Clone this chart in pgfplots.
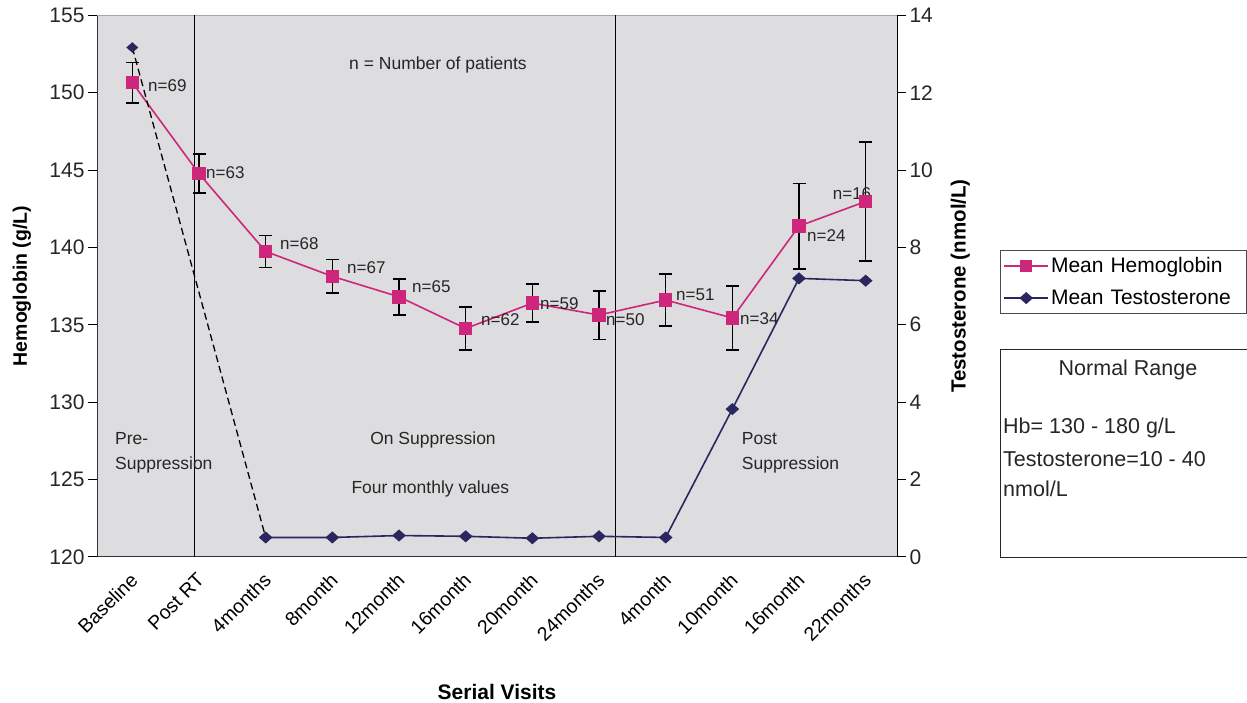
\documentclass[border=0pt]{standalone}
\usepackage{fontspec}
\setmainfont{Liberation Sans}
\usepackage{pgfplots}
\pgfplotsset{compat=1.18}
\definecolor{hb}{RGB}{205,38,122}
\definecolor{te}{RGB}{42,38,95}
\definecolor{bg}{RGB}{221,221,223}
\pgfplotstableread{
x y e
0 150.65 1.30
1 144.77 1.27
2 139.74 1.03
3 138.13 1.09
4 136.81 1.16
5 134.76 1.38
6 136.40 1.24
7 135.63 1.57
8 136.60 1.69
9 135.44 2.08
10 141.38 2.76
11 142.97 3.83
}\hbdata
\pgfplotstableread{
x y
0 13.17
2 0.50
}\tedash
\pgfplotstableread{
x y
2 0.50
3 0.50
4 0.55
5 0.53
6 0.48
7 0.53
8 0.50
9 3.82
10 7.20
11 7.14
}\tesolid
\begin{document}
\begin{tikzpicture}[x=1pt,y=1pt]
\useasboundingbox (0,0) rectangle (1247,702);
\begin{axis}[
  at={(97pt,145.2pt)}, anchor=south west,
  width=800pt, height=541.4pt, scale only axis,
  xmin=-0.53, xmax=11.47, ymin=120, ymax=155,
  axis background/.style={fill=bg},
  axis x line*=bottom, axis y line*=left,
  axis line style={line width=0.9pt, black!80},
  xtick={0,...,11},
  xticklabels={Baseline,Post RT,4months,8month,12month,16month,20month,24months,4month,10month,16month,22months},
  xtick style={draw=none},
  xticklabel style={rotate=45, anchor=east, font=\fontsize{19.5}{22}\selectfont, xshift=-3pt, yshift=-9pt},
  ytick={120,125,...,155},
  tick align=outside, major tick length=9pt,
  ytick style={line width=0.8pt, black},
  yticklabel style={font=\fontsize{21}{24}\selectfont, text=black!85},
  /pgf/number format/assume math mode=true,
  ylabel={\bfseries Hemoglobin (g/L)},
  ylabel style={font=\fontsize{19.5}{22}\selectfont, at={(axis description cs:-0.094,0.5)}, anchor=center},
  xlabel={\bfseries Serial Visits},
  xlabel style={font=\fontsize{21}{24}\selectfont, at={(axis description cs:0.5,-0.25)}, anchor=center},
  clip=false,
]
\draw[black!35, line width=1pt] (rel axis cs:0,1) -- (rel axis cs:1,1);
\draw[black, line width=1pt] (axis cs:0.93,120) -- (axis cs:0.93,155);
\draw[black, line width=1pt] (axis cs:7.25,120) -- (axis cs:7.25,155);
\addplot[hb, line width=1.6pt, mark=square*, mark size=6pt, mark options={fill=hb, draw=hb},
  error bars/.cd, y dir=both, y explicit,
  error bar style={line width=1.6pt, black},
  error mark options={rotate=90, mark size=6.5pt, line width=1.6pt, black}]
  table[x=x, y=y, y error=e]{\hbdata};
\begin{scope}[font=\fontsize{17}{20}\selectfont, text=black!85]
\node[anchor=west, inner sep=0pt] at (axis cs:0.235,150.44) {n=69};
\node[anchor=west, inner sep=0pt] at (axis cs:1.105,144.81) {n=63};
\node[anchor=west, inner sep=0pt] at (axis cs:2.215,140.22) {n=68};
\node[anchor=west, inner sep=0pt] at (axis cs:3.22,138.67) {n=67};
\node[anchor=west, inner sep=0pt] at (axis cs:4.195,137.44) {n=65};
\node[anchor=west, inner sep=0pt] at (axis cs:5.23,135.36) {n=62};
\node[anchor=west, inner sep=0pt] at (axis cs:6.115,136.39) {n=59};
\node[anchor=west, inner sep=0pt] at (axis cs:7.105,135.31) {n=50};
\node[anchor=west, inner sep=0pt] at (axis cs:8.155,136.97) {n=51};
\node[anchor=west, inner sep=0pt] at (axis cs:9.115,135.42) {n=34};
\node[anchor=west, inner sep=0pt] at (axis cs:10.12,140.74) {n=24};
\node[anchor=west, inner sep=0pt] at (axis cs:10.505,143.5) {n=16};
\end{scope}
\begin{scope}[font=\fontsize{17.5}{25}\selectfont, text=black!85]
\node[anchor=center] at (axis cs:4.585,151.8) {n = Number of patients};
\node[anchor=west, align=left, inner sep=0pt] at (axis cs:-0.26,126.74) {Pre-\\Suppression};
\node[anchor=center] at (axis cs:4.51,127.55) {On Suppression};
\node[anchor=center] at (axis cs:4.47,124.4) {Four monthly values};
\node[anchor=west, align=left, inner sep=0pt] at (axis cs:9.14,126.74) {Post\\Suppression};
\end{scope}
\end{axis}
\begin{axis}[
  at={(97pt,145.2pt)}, anchor=south west,
  width=800pt, height=541.4pt, scale only axis,
  xmin=-0.53, xmax=11.47, ymin=0, ymax=14,
  axis x line=none, axis y line*=right,
  axis line style={line width=0.9pt, black},
  ytick={0,2,...,14},
  tick align=outside, major tick length=9pt,
  ytick style={line width=0.8pt, black},
  yticklabel style={font=\fontsize{21}{24}\selectfont, text=black!85},
  /pgf/number format/assume math mode=true,
  ylabel={\bfseries Testosterone (nmol/L)},
  ylabel style={font=\fontsize{20.5}{23}\selectfont, at={(axis description cs:1.079,0.5)}, anchor=center, rotate=0},
  legend style={at={(axis description cs:1.12875,0.5667)}, anchor=north west,
    draw=black!70, line width=0.8pt, font=\fontsize{21}{24}\selectfont,
    inner xsep=3pt, inner ysep=5pt, row sep=12pt, text width=190pt},
  legend cell align=left,
  legend image code/.code={\draw[mark repeat=2, mark phase=2, #1] plot coordinates {(0pt,0pt) (22pt,0pt) (44pt,0pt)};},
  clip=false,
]
\addlegendimage{hb, line width=1.6pt, mark=square*, mark size=5pt, mark options={fill=hb, draw=hb}}
\addlegendentry{Mean Hemoglobin}
\addplot[te, line width=1.6pt, mark=diamond*, mark size=5pt, mark options={fill=te, draw=te, xscale=1.5}]
  table[x=x, y=y]{\tesolid};
\addlegendentry{Mean Testosterone}
\addplot[black, line width=1.3pt, dash pattern=on 7pt off 4pt, forget plot] table[x=x, y=y]{\tedash};
\addplot[only marks, te, mark=diamond*, mark size=5pt, mark options={fill=te, draw=te, xscale=1.5}, forget plot]
  table[x=x, y=y]{\tedash};
\end{axis}
\draw[black!85, line width=1pt] (1000,145) rectangle (1253,352);
\node[font=\fontsize{21.5}{24}\selectfont, text=black!85] at (1128,332) {Normal Range};
\begin{scope}[font=\fontsize{21.5}{24}\selectfont, text=black!85]
\node[anchor=west, inner sep=0pt] at (1003,274) {Hb= 130 - 180 g/L};
\node[anchor=west, inner sep=0pt] at (1003,243) {Testosterone=10 - 40};
\node[anchor=west, inner sep=0pt] at (1003,213) {nmol/L};
\end{scope}
\end{tikzpicture}
\end{document}
